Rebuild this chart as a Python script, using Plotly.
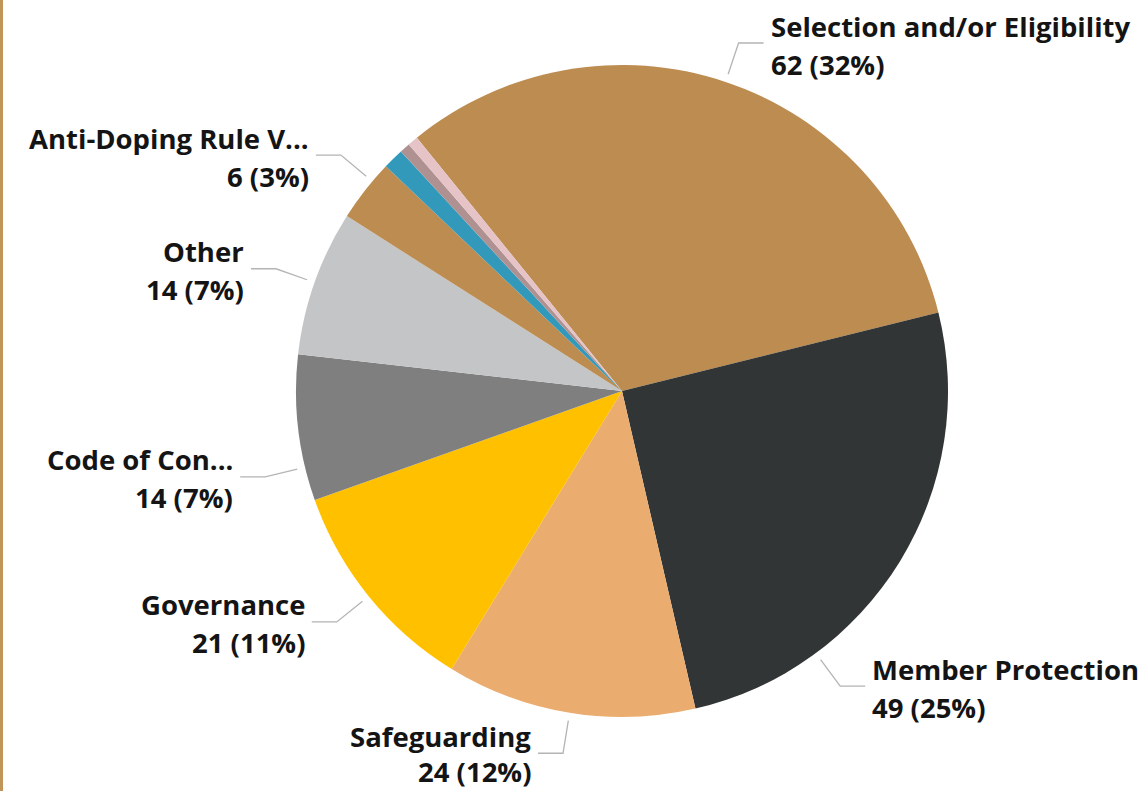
import math
import plotly.graph_objects as go

# ---------------- data ----------------
categories = [
    "Selection and/or Eligibility", "Member Protection", "Safeguarding",
    "Governance", "Code of Conduct", "Other", "Anti-Doping Rule Violation",
    "Discrimination", "Disciplinary", "Commercial",
]
display_labels = [
    "Selection and/or Eligibility", "Member Protection", "Safeguarding",
    "Governance", "Code of Con...", "Other", "Anti-Doping Rule V...",
    None, None, None,
]
values = [62, 49, 24, 21, 14, 14, 6, 2, 1, 1]

# ---------------- style ----------------
colors = ["#BC8C50", "#323535", "#EBAC70", "#FFC000", "#7F7F7F",
          "#C4C5C7", "#BC8C50", "#3399BA", "#B09192", "#E5C3C6"]
label_angle_shift = [0, 22, 0, 0, -7, 0, 2, 0, 0, 0]  # degrees, label placement tweak

W, H = 1142, 791
CX, CY, R = 622, 391, 326
ROTATION = -39
LEAD_START = R + 8
LEAD_ELBOW = R + 41
HORIZ = 25
GAP = 5
FONT = "Segoe UI, Open Sans, DejaVu Sans, sans-serif"
FSIZE = 27.5
LINE_COLOR = "#B4B4B4"

total = sum(values)

fig = go.Figure()

fig.add_trace(go.Pie(
    labels=categories, values=values, sort=False, direction="clockwise",
    rotation=ROTATION, textinfo="none", hole=0,
    marker=dict(colors=colors, line=dict(width=0)),
    domain=dict(x=[(CX - R) / W, (CX + R) / W], y=[1 - (CY + R) / H, 1 - (CY - R) / H]),
    showlegend=False,
))

annotations = []
cum = 0
for i, v in enumerate(values):
    mid = ROTATION + (cum + v / 2) / total * 360
    cum += v
    if display_labels[i] is None:
        continue
    a = math.radians(mid + label_angle_shift[i])
    sx, sy = CX + LEAD_START * math.sin(a), CY - LEAD_START * math.cos(a)
    ex, ey = CX + LEAD_ELBOW * math.sin(a), CY - LEAD_ELBOW * math.cos(a)
    side = 1 if math.sin(a) >= 0 else -1
    hx = ex + side * HORIZ
    fig.add_trace(go.Scatter(
        x=[sx, ex, hx], y=[sy, ey, ey], mode="lines",
        line=dict(color=LINE_COLOR, width=1.3), hoverinfo="skip",
        showlegend=False, xaxis="x", yaxis="y",
    ))
    tx = hx + side * GAP
    anchor = "left" if side > 0 else "right"
    pct = round(v / total * 100)
    y1 = ey - 17
    y2 = min(ey + 21, H - 20)
    annotations.append(dict(
        x=tx, y=y1, xref="x", yref="y", text=f"<b>{display_labels[i]}</b>",
        showarrow=False, xanchor=anchor, yanchor="middle", align=anchor,
        font=dict(family=FONT, size=FSIZE, color="#141414"),
    ))
    annotations.append(dict(
        x=tx, y=y2, xref="x", yref="y", text=f"<b>{v} ({pct}%)</b>",
        showarrow=False, xanchor=anchor, yanchor="middle", align=anchor,
        font=dict(family=FONT, size=FSIZE, color="#141414"),
    ))

fig.update_layout(
    width=W, height=H,
    margin=dict(l=0, r=0, t=0, b=0),
    paper_bgcolor="white", plot_bgcolor="rgba(0,0,0,0)",
    xaxis=dict(range=[0, W], visible=False, fixedrange=True),
    yaxis=dict(range=[H, 0], visible=False, fixedrange=True),
    annotations=annotations,
    shapes=[dict(type="rect", xref="paper", yref="paper", x0=0, x1=3 / W, y0=0, y1=1,
                 fillcolor="#C1945A", line=dict(width=0), layer="above")],
)

fig.write_html("out.html", config={"displayModeBar": False},
               post_script="document.body.style.margin='0';document.body.style.overflow='hidden';")
